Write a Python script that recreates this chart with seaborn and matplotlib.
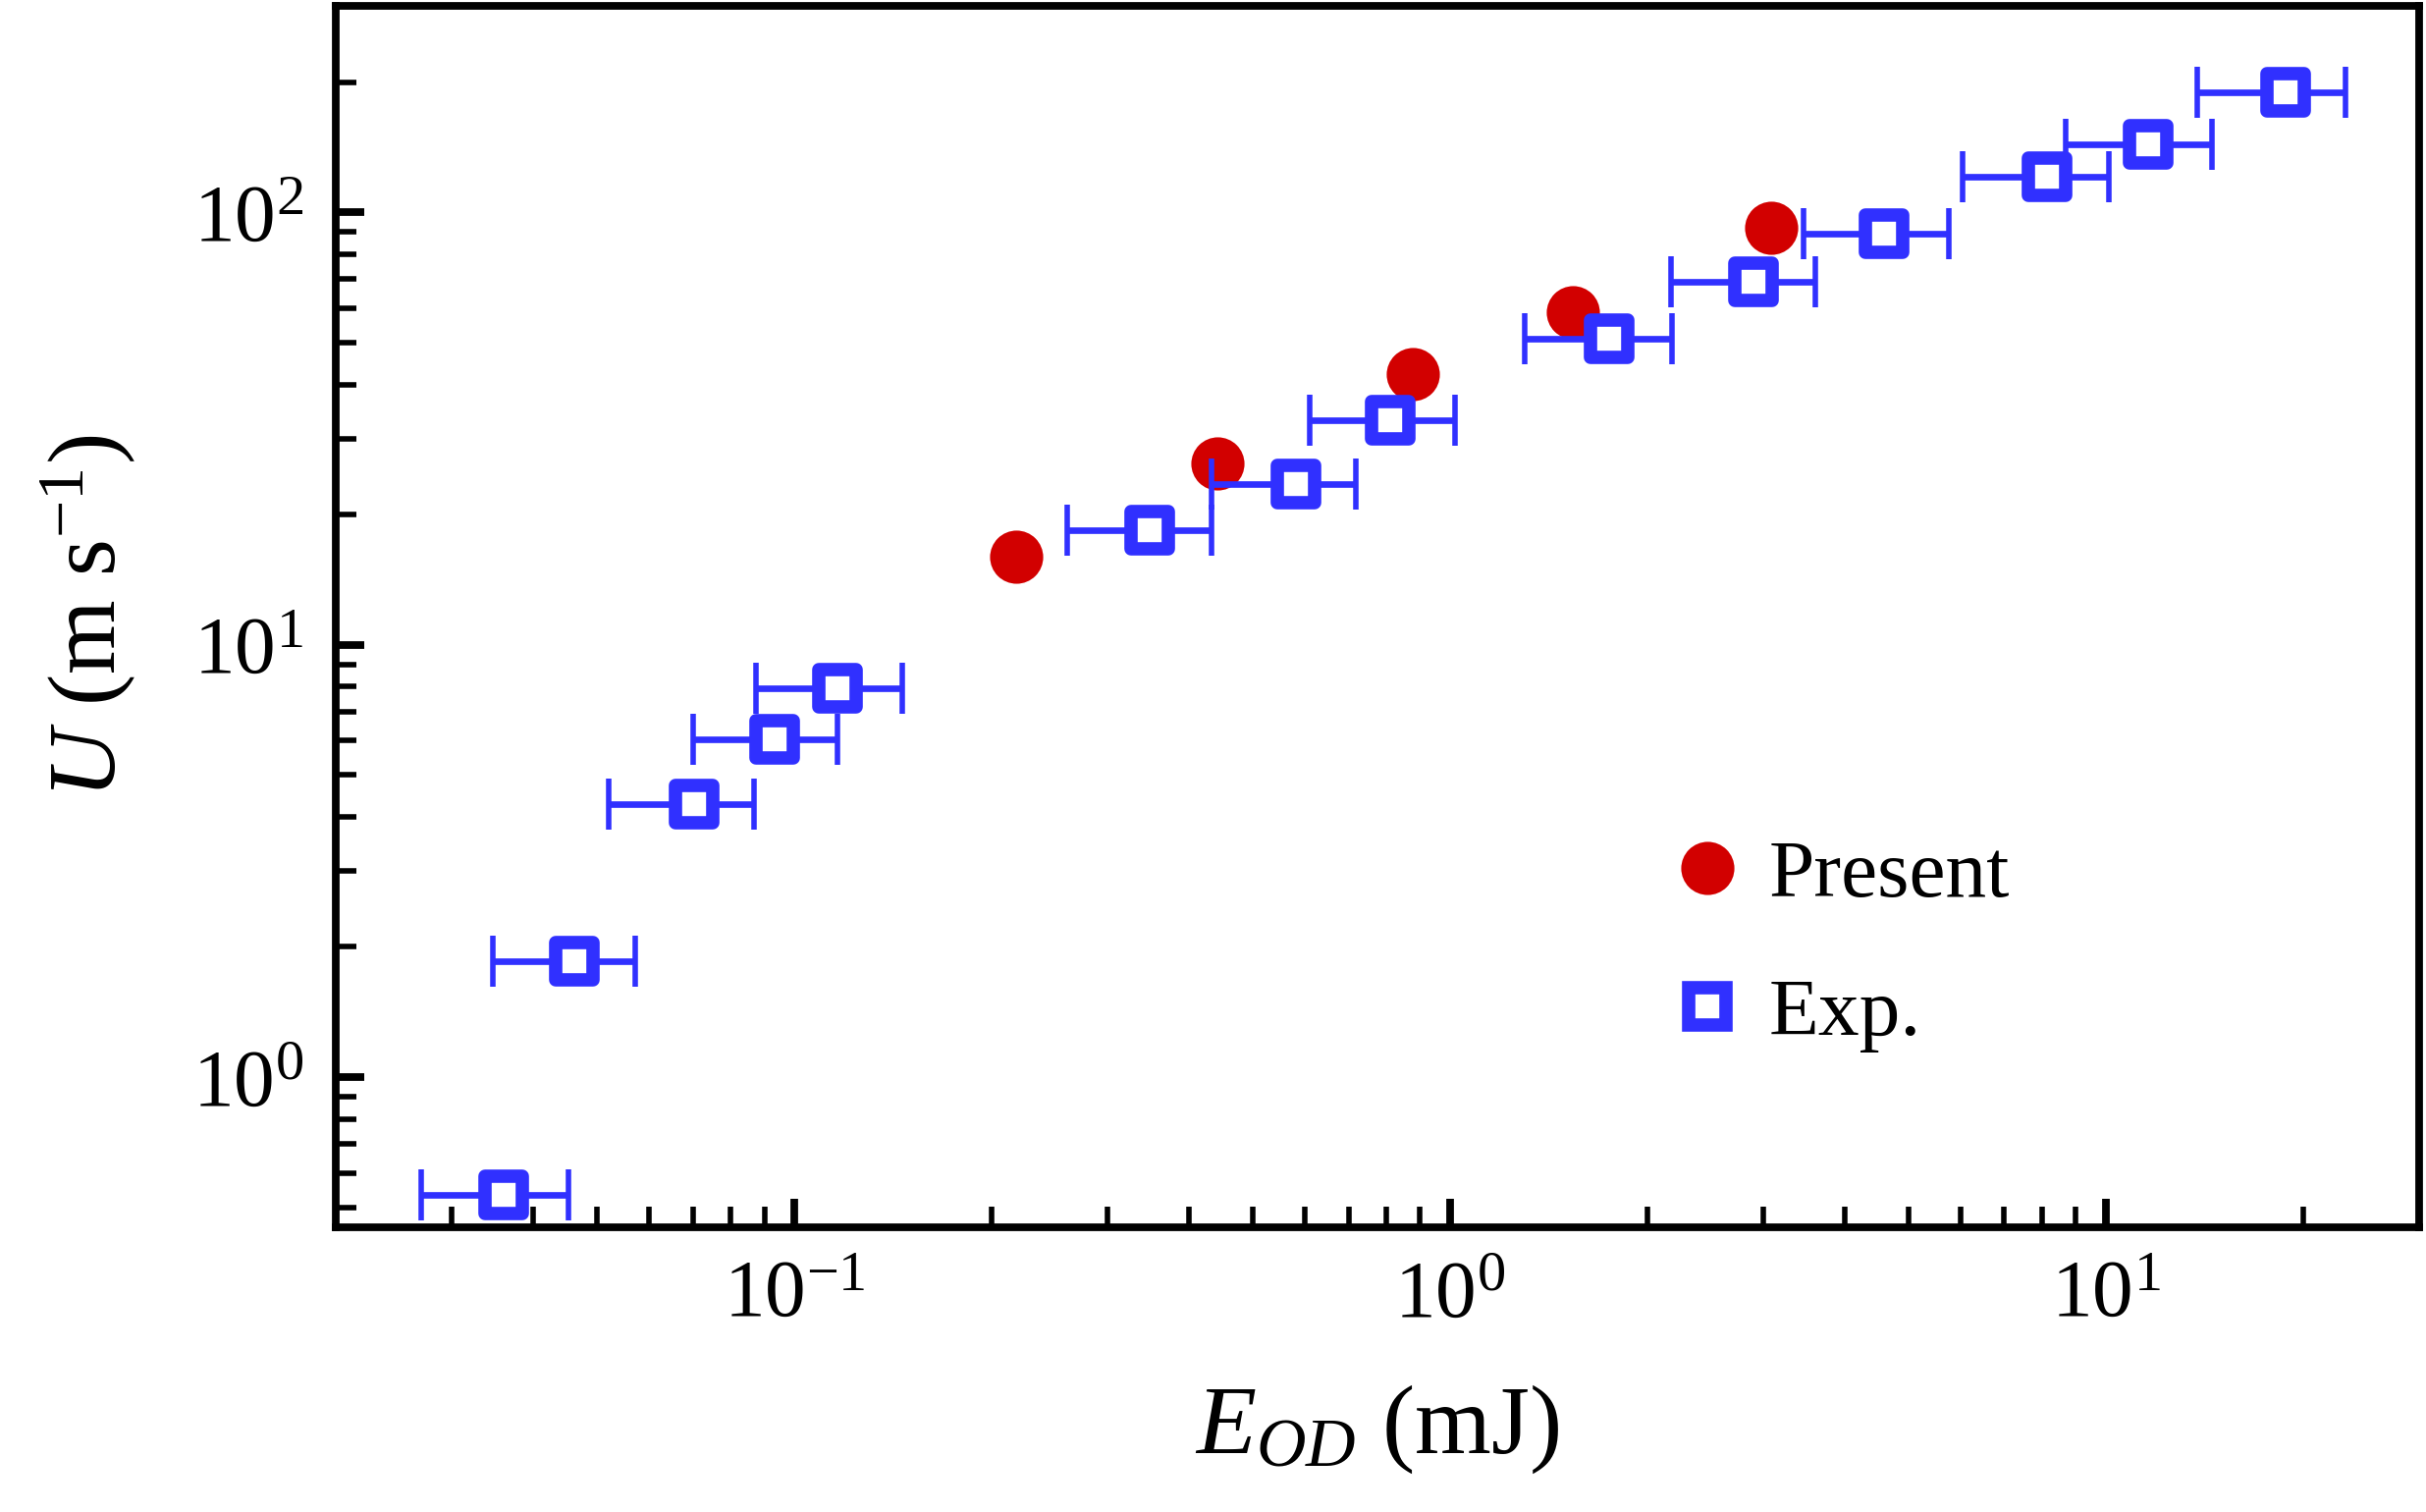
import numpy as np
import pandas as pd
import matplotlib
matplotlib.use("Agg")
import matplotlib.pyplot as plt
from matplotlib.lines import Line2D
from matplotlib.ticker import LogLocator, NullFormatter
import seaborn as sns

# ---- data ----
present_E = [0.218, 0.442, 0.876, 1.54, 3.09]
present_U = [16.0, 26.2, 42.2, 58.6, 92.1]

exp_E = [0.0360, 0.0462, 0.0703, 0.0932, 0.1164, 0.348, 0.583, 0.809, 1.75, 2.90, 4.59, 8.12, 11.6, 18.8]
exp_U = [0.535, 1.85, 4.28, 6.05, 7.94, 18.4, 23.5, 33.0, 50.9, 69.0, 89.1, 120.8, 143.5, 190.0]
exp_E_lo = [0.0270, 0.0347, 0.0521, 0.0700, 0.0873, 0.261, 0.432, 0.610, 1.30, 2.17, 3.46, 6.04, 8.69, 13.8]
exp_E_hi = [0.0453, 0.0572, 0.0869, 0.1164, 0.146, 0.432, 0.719, 1.016, 2.18, 3.60, 5.77, 10.1, 14.5, 23.2]

labels = ["Present", "Exp."]
xlabel = r"$E_{OD}$ (mJ)"
ylabel = r"$U$ (m s$^{-1}$)"

RED = "#D20000"
BLUE = "#3030FF"

sns.set_theme(style="ticks")
plt.rcParams["font.family"] = ["Liberation Serif", "DejaVu Serif"]
plt.rcParams["mathtext.fontset"] = "custom"
plt.rcParams["mathtext.rm"] = "Liberation Serif"
plt.rcParams["mathtext.it"] = "Liberation Serif:italic"
plt.rcParams["mathtext.bf"] = "Liberation Serif:bold"
for k in ["text.color", "axes.labelcolor", "xtick.color", "ytick.color", "axes.edgecolor"]:
    plt.rcParams[k] = "black"

fig = plt.figure(figsize=(12.355, 7.70), dpi=200)
ax = fig.add_axes([0.1385, 0.1885, 0.8585, 0.8075])

df_p = pd.DataFrame({"E": present_E, "U": present_U})
df_e = pd.DataFrame({"E": exp_E, "U": exp_U,
                     "lo": np.array(exp_E) - np.array(exp_E_lo),
                     "hi": np.array(exp_E_hi) - np.array(exp_E)})

sns.scatterplot(data=df_p, x="E", y="U", ax=ax, marker="o", s=19.5**2,
                color=RED, edgecolor=RED, linewidth=0, zorder=3, legend=False)
ax.errorbar(df_e["E"], df_e["U"], xerr=[df_e["lo"], df_e["hi"]], fmt="none",
            ecolor=BLUE, elinewidth=2.4, capsize=9.5, capthick=2.0, zorder=4)
sns.scatterplot(data=df_e, x="E", y="U", ax=ax, marker="s", s=13.5**2,
                facecolor="white", edgecolor=BLUE, linewidth=4.9, zorder=5, legend=False)

ax.set_xscale("log")
ax.set_yscale("log")
ax.set_xlim(0.02, 30)
ax.set_ylim(0.45, 300)

for sp in ["left", "bottom", "top", "right"]:
    ax.spines[sp].set_linewidth(2.8)
    ax.spines[sp].set_color("black")

ax.xaxis.set_major_locator(LogLocator(base=10, numticks=10))
ax.yaxis.set_major_locator(LogLocator(base=10, numticks=10))
ax.xaxis.set_minor_locator(LogLocator(base=10, subs=np.arange(2, 10), numticks=20))
ax.yaxis.set_minor_locator(LogLocator(base=10, subs=np.arange(2, 10), numticks=20))
ax.xaxis.set_minor_formatter(NullFormatter())
ax.yaxis.set_minor_formatter(NullFormatter())

ax.tick_params(which="major", direction="in", length=10.5, width=2.8,
               labelsize=30, pad=12, top=False, right=False, color="black",
               labelcolor="black")
ax.tick_params(which="minor", direction="in", length=7.5, width=2.0,
               top=False, right=False, color="black")

ax.set_xlabel(xlabel, fontsize=36, labelpad=18, color="black")
ax.set_ylabel(ylabel, fontsize=35, labelpad=20, color="black")

handles = [
    Line2D([], [], linestyle="none", marker="o", markersize=19.5, color=RED, markeredgewidth=0),
    Line2D([], [], linestyle="none", marker="s", markersize=13.5, markerfacecolor="white",
           markeredgecolor=BLUE, markeredgewidth=4.9),
]
leg = ax.legend(handles, labels, loc="center left", bbox_to_anchor=(0.6937, 0.3745),
                bbox_transform=fig.transFigure, frameon=False, fontsize=30,
                handlelength=0.6, handletextpad=0.45, labelspacing=0.78,
                borderpad=0, borderaxespad=0)
for t in leg.get_texts():
    t.set_color("black")

fig.savefig("out.png", dpi=200)
